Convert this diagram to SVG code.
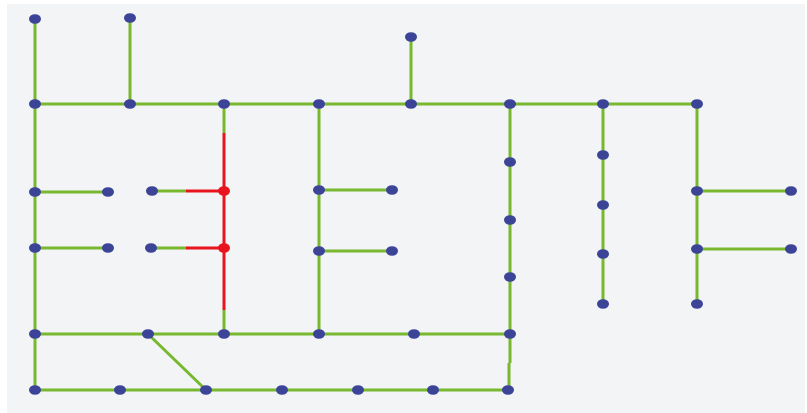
<svg xmlns="http://www.w3.org/2000/svg" width="807" height="413" viewBox="0 0 807 413">
<style>
.g{stroke:#77b82e;stroke-width:3;fill:none}
.r{stroke:#e8141e;stroke-width:3;fill:none}
.n{fill:#3b4497}
.rn{fill:#e8141e}
</style>
<defs>
<ellipse id="nd" cx="0" cy="0" rx="6" ry="4.8"/>
</defs>
<rect x="0" y="0" width="807" height="413" fill="#ffffff"/>
<rect x="7" y="4" width="798" height="409" fill="#f3f4f6"/>
<g id="connectors">
<path class="g" d="M35 19V390M130 18V104M411 37V104M35 104H697"/>
<path class="g" d="M35 192H108M35 248H108"/>
<path class="g" d="M224 104V133M224 310V334"/>
<path class="r" d="M224 133V310M186 191H224M186 248H224"/>
<path class="g" d="M152 191H186M151 248H186"/>
<path class="g" d="M319 104V334M319 190H392M319 251H392"/>
<path class="g" d="M35 334H510M148 334L206 390M35 390H508"/>
<path class="g" d="M510 104V363M509 363V390"/>
<path class="g" d="M603 104V304M697 104V304M697 191H791M697 249H791"/>
</g>
<g id="n1"><use href="#nd" class="n" x="35" y="19"/></g>
<g id="n2"><use href="#nd" class="n" x="130" y="18"/></g>
<g id="n3"><use href="#nd" class="n" x="411" y="37"/></g>
<g id="n4"><use href="#nd" class="n" x="35" y="104"/></g>
<g id="n5"><use href="#nd" class="n" x="130" y="104"/></g>
<g id="n6"><use href="#nd" class="n" x="224" y="104"/></g>
<g id="n7"><use href="#nd" class="n" x="319" y="104"/></g>
<g id="n8"><use href="#nd" class="n" x="411" y="104"/></g>
<g id="n9"><use href="#nd" class="n" x="510" y="104"/></g>
<g id="n10"><use href="#nd" class="n" x="603" y="104"/></g>
<g id="n11"><use href="#nd" class="n" x="697" y="104"/></g>
<g id="n12"><use href="#nd" class="n" x="35" y="192"/></g>
<g id="n13"><use href="#nd" class="n" x="108" y="192"/></g>
<g id="n14"><use href="#nd" class="n" x="35" y="248"/></g>
<g id="n15"><use href="#nd" class="n" x="108" y="248"/></g>
<g id="n16"><use href="#nd" class="n" x="152" y="191"/></g>
<g id="n17"><use href="#nd" class="rn" x="224" y="191"/></g>
<g id="n18"><use href="#nd" class="n" x="151" y="248"/></g>
<g id="n19"><use href="#nd" class="rn" x="224" y="248"/></g>
<g id="n20"><use href="#nd" class="n" x="319" y="190"/></g>
<g id="n21"><use href="#nd" class="n" x="392" y="190"/></g>
<g id="n22"><use href="#nd" class="n" x="319" y="251"/></g>
<g id="n23"><use href="#nd" class="n" x="392" y="251"/></g>
<g id="n24"><use href="#nd" class="n" x="510" y="162"/></g>
<g id="n25"><use href="#nd" class="n" x="510" y="220"/></g>
<g id="n26"><use href="#nd" class="n" x="510" y="277"/></g>
<g id="n27"><use href="#nd" class="n" x="603" y="155"/></g>
<g id="n28"><use href="#nd" class="n" x="603" y="205"/></g>
<g id="n29"><use href="#nd" class="n" x="603" y="254"/></g>
<g id="n30"><use href="#nd" class="n" x="603" y="304"/></g>
<g id="n31"><use href="#nd" class="n" x="697" y="191"/></g>
<g id="n32"><use href="#nd" class="n" x="791" y="191"/></g>
<g id="n33"><use href="#nd" class="n" x="697" y="249"/></g>
<g id="n34"><use href="#nd" class="n" x="791" y="249"/></g>
<g id="n35"><use href="#nd" class="n" x="697" y="304"/></g>
<g id="n36"><use href="#nd" class="n" x="35" y="334"/></g>
<g id="n37"><use href="#nd" class="n" x="148" y="334"/></g>
<g id="n38"><use href="#nd" class="n" x="224" y="334"/></g>
<g id="n39"><use href="#nd" class="n" x="319" y="334"/></g>
<g id="n40"><use href="#nd" class="n" x="414" y="334"/></g>
<g id="n41"><use href="#nd" class="n" x="510" y="334"/></g>
<g id="n42"><use href="#nd" class="n" x="35" y="390"/></g>
<g id="n43"><use href="#nd" class="n" x="120" y="390"/></g>
<g id="n44"><use href="#nd" class="n" x="206" y="390"/></g>
<g id="n45"><use href="#nd" class="n" x="282" y="390"/></g>
<g id="n46"><use href="#nd" class="n" x="358" y="390"/></g>
<g id="n47"><use href="#nd" class="n" x="433" y="390"/></g>
<g id="n48"><use href="#nd" class="n" x="508" y="390"/></g>
</svg>
